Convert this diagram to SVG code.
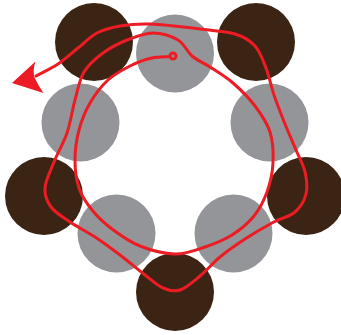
<svg xmlns="http://www.w3.org/2000/svg" width="341" height="335" viewBox="0 0 341 335">
<style>
.dark{fill:#3c2415}
.gray{fill:#939598}
.red{fill:none;stroke:#ed1c24;stroke-width:3;stroke-linecap:round;stroke-linejoin:round}
.head{fill:#ed1c24}
</style>
<rect width="341" height="335" fill="#ffffff"/>
<g id="dark-circles">
<circle id="d1" class="dark" cx="94" cy="42" r="39"/>
<circle id="d2" class="dark" cx="256" cy="42" r="39"/>
<circle id="d3" class="dark" cx="306" cy="196" r="39"/>
<circle id="d4" class="dark" cx="175" cy="292" r="39"/>
<circle id="d5" class="dark" cx="44" cy="196" r="39"/>
</g>
<g id="gray-circles">
<circle id="g1" class="gray" cx="175" cy="53.5" r="39"/>
<circle id="g2" class="gray" cx="269.5" cy="122.5" r="39"/>
<circle id="g3" class="gray" cx="233.5" cy="233.5" r="39"/>
<circle id="g4" class="gray" cx="116.5" cy="233.5" r="39"/>
<circle id="g5" class="gray" cx="80.5" cy="122.5" r="39"/>
</g>
<g id="connectors">
<circle class="red" cx="173" cy="56" r="3" stroke-width="2.2"/>
<path class="red" d="M170,56.5 C166,57 159.2,56.5 152,58 S137.3,62.3 130,66 S114.7,73.8 108,80 S94.8,94.7 90,103 S81.5,120.5 79,130 S75,150.3 75,160 S76.2,179.7 79,188 S86.5,203.2 92,210 S104,223 112,229 S129.5,241.8 140,246 S164.2,253.8 175,254 S195.5,250.2 205,247 S223.8,240.2 232,235 S248.2,223.2 254,216 S263.8,200.8 267,192 S272.5,173 273,163 S273,141.5 270,132 S261.2,114.2 255,106 S240.5,89.5 233,83 S216.8,71.5 210,67 S197.3,60.5 192,56 S184.5,43.8 178,40 S161.5,33 153,33 S135.3,36.7 127,40 S110.2,47.7 103,53 S88.7,64.2 84,72 S77.8,89.8 75,100 S70.5,122.7 67,133 S57.7,152.8 54,162 S45.5,180.5 45,188 S46.8,201.3 51,207 S62.7,217 70,222 S86.7,231.5 95,237 S111.7,248.7 120,255 S137.8,269.5 145,275 S157.2,285.5 163,288 S173.8,292 180,290 S193.3,281.5 200,276 S212.5,263.2 220,257 S236.3,244.7 245,239 S263.7,227.5 272,223 S289.3,216.8 295,212 S304.3,200.7 306,194 S306.7,179.3 305,172 S299.3,158 296,150 S288.7,133.2 285,124 S277.2,104.3 274,95 S269.2,76.2 266,68 S260.2,51.7 255,46 S244.2,36.8 235,34 S214.2,30.7 200,29 S163.3,24.5 150,24 S128.8,24.5 120,26 S104,29.3 97,33 S84.5,42.8 78,48 S65,59.3 58,64 S43.3,72 36,76"/>
<path class="head" d="M12,83 L35.5,61.5 Q32.5,70 34.5,77.5 Q38.5,86 43.5,93 Z"/>
</g>
</svg>
